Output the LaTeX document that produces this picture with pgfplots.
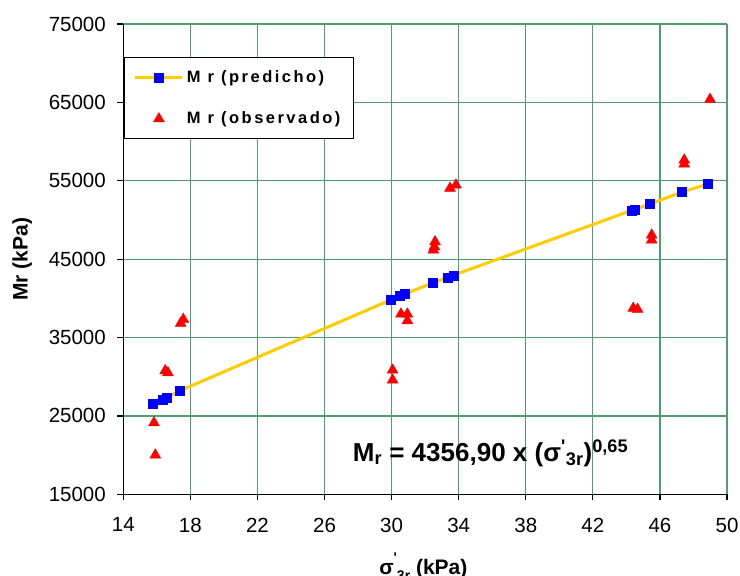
\documentclass[border=0pt]{standalone}
\usepackage{pgfplots}
\pgfplotsset{compat=1.18}
\usepackage{fontspec}
\setmainfont{Liberation Sans}
\newfontfamily\legfont[LetterSpace=15]{Liberation Sans}
\definecolor{gridgreen}{RGB}{75,160,110}
\definecolor{gold}{RGB}{255,204,0}
\begin{document}
\begin{tikzpicture}
\useasboundingbox (-123.3bp,-81.7bp) rectangle (616.7bp,494.3bp);
\begin{axis}[
  name=ax,
  scale only axis,
  width=603.7bp, height=470.3bp,
  xmin=14, xmax=50, ymin=15000, ymax=75000,
  xtick={14,18,...,50},
  ytick={15000,25000,...,75000},
  scaled y ticks=false,
  axis x line*=bottom, axis y line*=left,
  axis line style={black, line width=1.3bp, -},
  tick align=outside,
  major tick length=6bp,
  tick style={black, line width=1.3bp},
  grid=major,
  grid style={gridgreen, line width=1.2bp},
  /pgf/number format/assume math mode=true,
  /pgf/number format/set thousands separator={},
  tick label style={font=\fontsize{20.5bp}{24bp}\selectfont},
  yticklabel style={xshift=-8bp},
  xticklabel style={yshift=-14bp},
  every axis y label/.style={at={(axis description cs:-0.1673,0.5)}, rotate=90, anchor=center},
  every axis x label/.style={at={(axis description cs:0.497,-0.154)}, anchor=center},
  ylabel={\fontsize{21bp}{24bp}\selectfont\bfseries Mr (kPa)},
  xlabel={\fontsize{21bp}{24bp}\selectfont\bfseries σ\raisebox{0.55em}{\fontsize{14bp}{16bp}\selectfont\textquotesingle}\raisebox{-0.3em}{\fontsize{14bp}{16bp}\selectfont 3r} (kPa)},
  legend style={at={(0,0.93)}, anchor=north west, draw=black, line width=1.3bp, fill=white,
    inner xsep=10bp, inner ysep=10bp, row sep=22bp,
    nodes={inner sep=3bp, anchor=west},
    font=\legfont\fontsize{16.5bp}{20bp}\selectfont\bfseries},
  legend cell align=left,
  legend image code/.code={\draw[mark repeat=2,mark phase=2,#1] plot coordinates {(0bp,0bp) (23.5bp,0bp) (47bp,0bp)};},
]
\addplot[gold, line width=3bp, mark=square*, mark size=4.5bp, mark options={blue, fill=blue, line width=0.5bp}] coordinates {
(15.75,26521) (16.33,27121) (16.59,27325) (17.38,28218)
(29.94,39790) (30.50,40339) (30.80,40556) (32.43,41959) (33.32,42635) (33.68,42941)
(44.32,51220) (44.51,51364) (45.41,52038) (47.32,53569) (48.87,54590)
};
\addlegendentry{M r (predicho)}
\addplot[only marks, mark=triangle*, mark size=6.2bp, mark options={red, fill=red, line width=0.5bp}] coordinates {
(15.83,24135) (15.91,20014) (16.50,30770) (16.66,30514) (17.42,36817) (17.58,37327)
(30.06,30858) (30.06,29583) (30.56,38003) (30.94,38003) (30.94,37149)
(32.49,46169) (32.55,46590) (32.59,47227) (33.48,54040) (33.84,54462)
(44.41,38731) (44.67,38603) (45.51,47444) (45.51,48082) (47.45,57140) (47.45,57650) (48.99,65395)
};
\addlegendentry{M r (observado)}
\node[font=\fontsize{26bp}{29bp}\selectfont\bfseries, anchor=center] at (axis cs:35.9,20270)
  {M\textsubscript{r} = 4356,90 x (σ\textsuperscript{\textquotesingle}\textsubscript{3r})\textsuperscript{0,65}};
\end{axis}
\end{tikzpicture}
\end{document}
